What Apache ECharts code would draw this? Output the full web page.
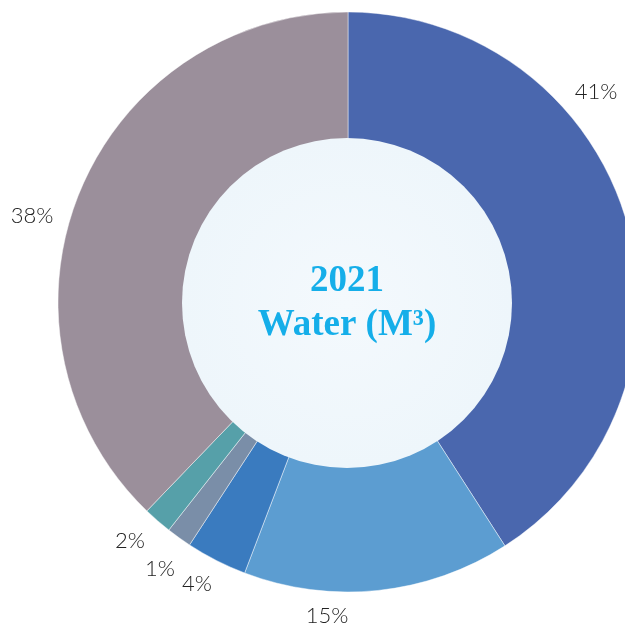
<!DOCTYPE html>
<html><head><meta charset="utf-8">
<script src="https://cdn.jsdelivr.net/npm/echarts@6/dist/echarts.min.js"></script>
<style>html,body{margin:0;padding:0;background:#fff}#c{width:625px;height:627px}</style>
</head><body><div id="c"></div>
<script>
const categories = ['A', 'B', 'C', 'D', 'E', 'F'];
const shares = [40.9, 14.9, 3.4, 1.4, 1.6, 37.8];
const shareLabels = ['41%', '15%', '4%', '1%', '2%', '38%'];
const colors = ['#4a67ae', '#5c9dd1', '#3a7bbf', '#7a8ea8', '#56a0a9', '#9b8f9b'];
const centerTitle = ['2021', 'Water (M\u00B3)'];

// label anchor points (layout only)
const labelPos = [[596, 92], [327, 616], [197, 584], [160, 569], [130, 541], [32, 216]];

const chart = echarts.init(document.getElementById('c'));
chart.setOption({
  animation: false,
  series: [
    {
      type: 'pie',
      center: [348, 302],
      radius: [160, 290],
      startAngle: 90,
      clockwise: true,
      silent: true,
      avoidLabelOverlap: false,
      itemStyle: { borderColor: 'rgba(255,255,255,0.45)', borderWidth: 1 },
      label: {
        show: true,
        position: 'outside',
        overflow: 'none',
        formatter: p => shareLabels[p.dataIndex],
        fontFamily: 'Lato',
        fontWeight: 300,
        fontSize: 22,
        color: '#222'
      },
      labelLine: { show: false },
      labelLayout: p => ({ x: labelPos[p.dataIndex][0], y: labelPos[p.dataIndex][1], align: 'center', verticalAlign: 'middle', hideOverlap: false }),
      data: categories.map((c, i) => ({ name: c, value: shares[i], itemStyle: { color: colors[i] } }))
    },
    {
      type: 'pie',
      center: [347, 303],
      radius: [0, 165],
      silent: true,
      z: 5,
      itemStyle: {
        color: {
          type: 'radial', x: 0.5, y: 0.5, r: 0.5,
          colorStops: [{ offset: 0, color: '#f4f9fd' }, { offset: 1, color: '#eef6fb' }]
        }
      },
      label: {
        show: true,
        position: 'center',
        formatter: () => '{a|' + centerTitle[0] + '}\n{a|' + centerTitle[1] + '}',
        rich: {
          a: { fontFamily: 'Liberation Serif', fontWeight: 'bold', fontSize: 37, lineHeight: 44, color: '#15aee9', align: 'center' }
        }
      },
      labelLine: { show: false },
      data: [{ name: 'center', value: 1 }]
    }
  ]
});
</script>
</body></html>
